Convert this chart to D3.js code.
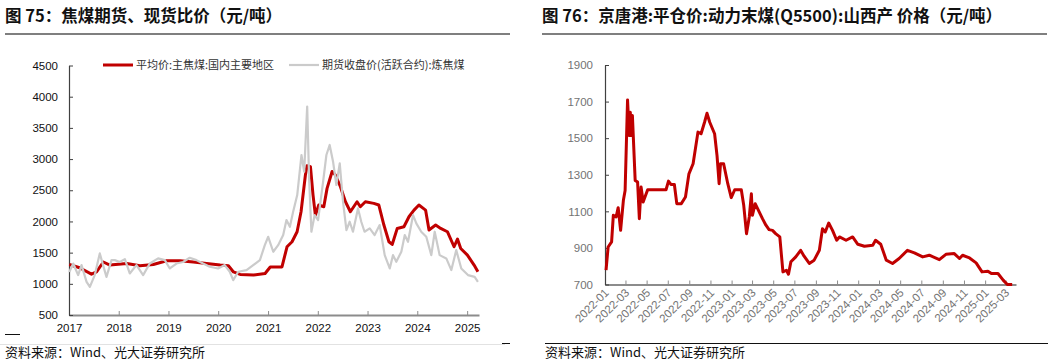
<!DOCTYPE html>
<html>
<head>
<meta charset="utf-8">
<script src="https://cdn.jsdelivr.net/npm/d3@7"></script>
<style>
  body { margin: 0; background: #fff; }
  svg text { font-family: 'Liberation Sans', Arial, sans-serif; }
  svg .cjk { font-family: 'Noto Sans CJK SC', sans-serif; }
</style>
</head>
<body>
<svg id="chart" width="1055" height="363"></svg>
<script>
// Spot price: 平均价:主焦煤:国内主要地区
const cokingSpot = [
  ['2017-01-03', 1310], ['2017-03-20', 1257], ['2017-06-15', 1155], ['2017-07-22', 1190],
  ['2017-09-10', 1350], ['2017-10-28', 1300], ['2018-03-01', 1325], ['2018-06-06', 1290],
  ['2018-09-12', 1310], ['2018-12-18', 1370], ['2019-03-27', 1370], ['2019-07-02', 1350],
  ['2019-10-08', 1325], ['2020-01-15', 1300], ['2020-03-16', 1290], ['2020-04-22', 1190],
  ['2020-06-10', 1150], ['2020-09-16', 1140], ['2020-12-10', 1165], ['2021-01-17', 1270],
  ['2021-04-13', 1270], ['2021-05-20', 1594], ['2021-06-26', 1674], ['2021-08-02', 1835],
  ['2021-08-31', 2155], ['2021-10-02', 2744], ['2021-10-14', 2894], ['2021-11-08', 2878],
  ['2021-11-27', 2423], ['2021-12-14', 2100], ['2022-01-08', 2263], ['2022-02-14', 2236],
  ['2022-03-10', 2530], ['2022-04-16', 2800], ['2022-05-10', 2744], ['2022-06-16', 2556],
  ['2022-07-23', 2316], ['2022-08-28', 2155], ['2022-10-16', 2316], ['2022-11-09', 2236],
  ['2022-12-16', 2316], ['2023-02-16', 2290], ['2023-03-25', 2263], ['2023-05-01', 1942],
  ['2023-06-07', 1674], ['2023-07-01', 1631], ['2023-08-07', 1888], ['2023-09-25', 1915],
  ['2023-11-01', 2075], ['2023-12-08', 2182], ['2024-01-13', 2263], ['2024-03-02', 2182],
  ['2024-03-27', 1862], ['2024-05-15', 1942], ['2024-06-21', 1888], ['2024-08-09', 1835],
  ['2024-09-27', 1594], ['2024-10-22', 1717], ['2024-11-15', 1567], ['2025-01-03', 1460],
  ['2025-02-21', 1300], ['2025-03-21', 1193]
];

// Futures close: 期货收盘价(活跃合约):炼焦煤
const cokingFutures = [
  ['2017-01-03', 1190], ['2017-02-01', 1325], ['2017-03-09', 1140], ['2017-04-03', 1300],
  ['2017-05-10', 1032], ['2017-06-03', 952], ['2017-07-09', 1140], ['2017-08-15', 1487],
  ['2017-09-08', 1300], ['2017-10-03', 1112], ['2017-11-09', 1380], ['2017-12-03', 1380],
  ['2018-01-09', 1350], ['2018-02-15', 1396], ['2018-03-23', 1166], ['2018-05-11', 1300],
  ['2018-06-29', 1140], ['2018-08-17', 1325], ['2018-10-17', 1407], ['2018-12-05', 1380],
  ['2019-01-11', 1246], ['2019-03-01', 1325], ['2019-04-18', 1350], ['2019-06-06', 1417],
  ['2019-07-25', 1380], ['2019-09-12', 1325], ['2019-10-31', 1273], ['2019-12-31', 1246],
  ['2020-02-18', 1300], ['2020-03-26', 1193], ['2020-04-20', 1059], ['2020-05-27', 1193],
  ['2020-07-27', 1220], ['2020-09-14', 1300], ['2020-11-02', 1380], ['2020-12-08', 1620],
  ['2021-01-02', 1754], ['2021-02-08', 1514], ['2021-03-16', 1620], ['2021-04-22', 1781],
  ['2021-05-16', 2022], ['2021-06-10', 1915], ['2021-07-04', 2155], ['2021-08-03', 2423],
  ['2021-09-03', 3065], ['2021-09-23', 2798], ['2021-10-15', 3841], ['2021-10-29', 2691],
  ['2021-11-15', 1835], ['2021-12-09', 2102], ['2022-01-03', 2022], ['2022-02-09', 2637],
  ['2022-03-05', 3065], ['2022-03-29', 3226], ['2022-04-23', 2958], ['2022-05-17', 2584],
  ['2022-06-11', 2932], ['2022-07-05', 2316], ['2022-07-30', 1862], ['2022-08-23', 1995],
  ['2022-09-16', 1835], ['2022-10-23', 2209], ['2022-11-16', 1995], ['2022-12-10', 1835],
  ['2023-01-17', 1888], ['2023-02-22', 1781], ['2023-03-31', 1942], ['2023-05-07', 1460],
  ['2023-06-13', 1246], ['2023-07-07', 1460], ['2023-07-31', 1353], ['2023-09-06', 1514],
  ['2023-10-01', 1781], ['2023-10-25', 1674], ['2023-12-01', 2102], ['2023-12-25', 1968],
  ['2024-01-30', 1835], ['2024-03-07', 1754], ['2024-04-13', 1460], ['2024-05-08', 1835],
  ['2024-06-13', 1460], ['2024-08-01', 1407], ['2024-09-07', 1220], ['2024-10-13', 1540],
  ['2024-11-19', 1246], ['2025-01-07', 1140], ['2025-02-25', 1112], ['2025-03-21', 1032]
];

// 京唐港:平仓价:动力末煤(Q5500):山西产
const thermalPrice = [
  ['2022-01-04', 778], ['2022-01-10', 905], ['2022-01-20', 933], ['2022-01-25', 1078],
  ['2022-02-02', 1069], ['2022-02-08', 1120], ['2022-02-15', 996], ['2022-02-23', 1160],
  ['2022-02-28', 1214], ['2022-03-07', 1709], ['2022-03-12', 1514], ['2022-03-15', 1642],
  ['2022-03-18', 1514], ['2022-03-21', 1624], ['2022-03-29', 1269], ['2022-04-05', 1260],
  ['2022-04-10', 1060], ['2022-04-15', 1233], ['2022-04-21', 1151], ['2022-05-04', 1218],
  ['2022-06-26', 1218], ['2022-07-03', 1265], ['2022-07-10', 1247], ['2022-07-20', 1247],
  ['2022-07-27', 1142], ['2022-08-09', 1142], ['2022-08-21', 1178], ['2022-08-31', 1305],
  ['2022-09-12', 1360], ['2022-09-26', 1533], ['2022-10-05', 1524], ['2022-10-15', 1587],
  ['2022-10-22', 1636], ['2022-10-30', 1587], ['2022-11-13', 1524], ['2022-11-20', 1405],
  ['2022-11-26', 1251], ['2022-11-30', 1360], ['2022-12-09', 1360], ['2022-12-21', 1251],
  ['2022-12-31', 1175], ['2023-01-10', 1218], ['2023-01-29', 1218], ['2023-02-05', 1133],
  ['2023-02-13', 978], ['2023-02-21', 1069], ['2023-02-27', 1196], ['2023-03-02', 1078],
  ['2023-03-10', 1142], ['2023-03-31', 1060], ['2023-04-10', 1024], ['2023-04-19', 1000],
  ['2023-04-29', 996], ['2023-05-08', 978], ['2023-05-20', 960], ['2023-05-29', 769],
  ['2023-06-08', 778], ['2023-06-14', 756], ['2023-06-21', 824], ['2023-07-05', 851],
  ['2023-07-19', 887], ['2023-07-29', 855], ['2023-08-13', 815], ['2023-08-27', 833],
  ['2023-09-11', 887], ['2023-09-20', 1005], ['2023-09-28', 987], ['2023-10-08', 1036],
  ['2023-10-19', 996], ['2023-10-31', 942], ['2023-11-08', 960], ['2023-11-27', 942],
  ['2023-12-16', 960], ['2023-12-31', 920], ['2024-01-19', 909], ['2024-02-12', 915],
  ['2024-02-20', 942], ['2024-03-06', 920], ['2024-03-22', 833], ['2024-04-09', 815],
  ['2024-04-28', 842], ['2024-05-22', 887], ['2024-06-11', 873], ['2024-07-05', 851],
  ['2024-07-24', 860], ['2024-08-22', 836], ['2024-09-10', 865], ['2024-10-04', 869],
  ['2024-10-19', 842], ['2024-10-28', 860], ['2024-11-17', 845], ['2024-12-06', 818],
  ['2024-12-23', 769], ['2025-01-09', 773], ['2025-01-19', 760], ['2025-02-07', 760],
  ['2025-02-22', 724], ['2025-03-06', 700], ['2025-03-20', 700]
];

// Tick labels
const leftYTicks = [500, 1000, 1500, 2000, 2500, 3000, 3500, 4000, 4500];
const leftXTicks = ['2017', '2018', '2019', '2020', '2021', '2022', '2023', '2024', '2025'];
const rightYTicks = [700, 900, 1100, 1300, 1500, 1700, 1900];
const rightXTicks = [
  '2022-01', '2022-03', '2022-05', '2022-07', '2022-09', '2022-11',
  '2023-01', '2023-03', '2023-05', '2023-07', '2023-09', '2023-11',
  '2024-01', '2024-03', '2024-05', '2024-07', '2024-09', '2024-11',
  '2025-01', '2025-03'
];

const RED = '#c00000';
const GREY = '#cbcbcb';

const parseDay = d3.timeParse('%Y-%m-%d');
const svg = d3.select('#chart');

function header(x0, x1, title) {
  svg.append('text')
    .attr('class', 'cjk')
    .attr('x', x0)
    .attr('y', 22)
    .attr('font-size', 16.5)
    .attr('font-weight', 'bold')
    .attr('fill', '#111')
    .text(title);

  svg.append('line')
    .attr('x1', x0).attr('x2', x1)
    .attr('y1', 34).attr('y2', 34)
    .attr('stroke', '#555')
    .attr('stroke-width', 1.5);
}

function footer(x0) {
  svg.append('text')
    .attr('class', 'cjk')
    .attr('x', x0)
    .attr('y', 357)
    .attr('font-size', 13)
    .attr('fill', '#111')
    .text('资料来源：Wind、光大证券研究所');
}

function drawLine(g, data, x, y, color, width) {
  const line = d3.line()
    .x(d => x(parseDay(d[0])))
    .y(d => y(d[1]));
  g.append('path')
    .datum(data)
    .attr('fill', 'none')
    .attr('stroke', color)
    .attr('stroke-width', width)
    .attr('stroke-linejoin', 'round')
    .attr('d', line);
}

function styleAxis(sel, lineColor, lineWidth, textColor) {
  sel.select('.domain').attr('stroke', lineColor).attr('stroke-width', lineWidth);
  sel.selectAll('.tick line').attr('stroke', lineColor).attr('stroke-width', 1);
  sel.selectAll('.tick text')
    .attr('fill', textColor)
    .attr('font-size', 11.5)
    .attr('font-family', "'Liberation Sans', Arial, sans-serif");
}

// ---------- Left panel ----------
header(5, 510, '图 75：焦煤期货、现货比价（元/吨）');

const xL = d3.scaleTime()
  .domain([new Date(2017, 0, 1), new Date(2025, 2, 29)])
  .range([69, 479]);
const yL = d3.scaleLinear().domain([500, 4500]).range([315, 65.5]);

const leftGroup = svg.append('g');

leftGroup.append('g')
  .attr('transform', 'translate(0, 315)')
  .call(d3.axisBottom(xL)
    .tickValues(leftXTicks.map(t => new Date(+t, 0, 1)))
    .tickFormat(d3.timeFormat('%Y'))
    .tickSizeInner(-4).tickSizeOuter(0).tickPadding(9))
  .call(sel => styleAxis(sel, '#8c8c8c', 2, '#111'));

leftGroup.append('g')
  .attr('transform', 'translate(69, 0)')
  .call(d3.axisLeft(yL)
    .tickValues(leftYTicks)
    .tickFormat(d3.format('d'))
    .tickSizeInner(-4).tickSizeOuter(0).tickPadding(11))
  .call(sel => styleAxis(sel, '#404040', 1.2, '#111'));

drawLine(leftGroup, cokingSpot, xL, yL, RED, 3);
drawLine(leftGroup, cokingFutures, xL, yL, GREY, 2.2);

// Legend
const legend = [
  { label: '平均价:主焦煤:国内主要地区', color: RED, width: 3, x: 103 },
  { label: '期货收盘价(活跃合约):炼焦煤', color: GREY, width: 2.2, x: 289 }
];
legend.forEach(item => {
  leftGroup.append('line')
    .attr('x1', item.x).attr('x2', item.x + 30)
    .attr('y1', 65).attr('y2', 65)
    .attr('stroke', item.color)
    .attr('stroke-width', item.width);
  leftGroup.append('text')
    .attr('class', 'cjk')
    .attr('x', item.x + 33)
    .attr('y', 65)
    .attr('dy', '0.35em')
    .attr('font-size', 11)
    .attr('fill', '#333')
    .text(item.label);
});

// Source note rules
svg.append('line')
  .attr('x1', 0).attr('x2', 505).attr('y1', 344.5).attr('y2', 344.5)
  .attr('stroke', '#e2e2e2').attr('stroke-width', 1);
svg.append('line')
  .attr('x1', 5).attr('x2', 20).attr('y1', 334.5).attr('y2', 334.5)
  .attr('stroke', '#111').attr('stroke-width', 1);
svg.append('line')
  .attr('x1', 502).attr('x2', 510).attr('y1', 343.5).attr('y2', 343.5)
  .attr('stroke', '#111').attr('stroke-width', 1);
footer(5);

// ---------- Right panel ----------
header(542, 1047, '图 76：京唐港:平仓价:动力末煤(Q5500):山西产 价格（元/吨）');

const xR = d3.scaleTime()
  .domain([new Date(2022, 0, 1), new Date(2025, 2, 31)])
  .range([605, 1016]);
const yR = d3.scaleLinear().domain([700, 1900]).range([284.5, 65]);

const rightGroup = svg.append('g');

const xAxisR = rightGroup.append('g')
  .attr('transform', 'translate(0, 284.5)')
  .call(d3.axisBottom(xR)
    .tickValues(rightXTicks.map(t => d3.timeParse('%Y-%m')(t)))
    .tickFormat(d3.timeFormat('%Y-%m'))
    .tickSizeInner(-4).tickSizeOuter(0))
  .call(sel => styleAxis(sel, '#8c8c8c', 2, '#737373'));

xAxisR.selectAll('.tick text')
  .attr('text-anchor', 'end')
  .attr('dy', null)
  .attr('y', null)
  .attr('transform', 'translate(4, 9) rotate(-45)');

rightGroup.append('g')
  .attr('transform', 'translate(605, 0)')
  .call(d3.axisLeft(yR)
    .tickValues(rightYTicks)
    .tickFormat(d3.format('d'))
    .tickSizeInner(-4).tickSizeOuter(0).tickPadding(12))
  .call(sel => styleAxis(sel, '#404040', 1.2, '#737373'));

drawLine(rightGroup, thermalPrice, xR, yR, RED, 3);

svg.append('line')
  .attr('x1', 545).attr('x2', 1048).attr('y1', 343.5).attr('y2', 343.5)
  .attr('stroke', '#111').attr('stroke-width', 1);
footer(545);
</script>
</body>
</html>
